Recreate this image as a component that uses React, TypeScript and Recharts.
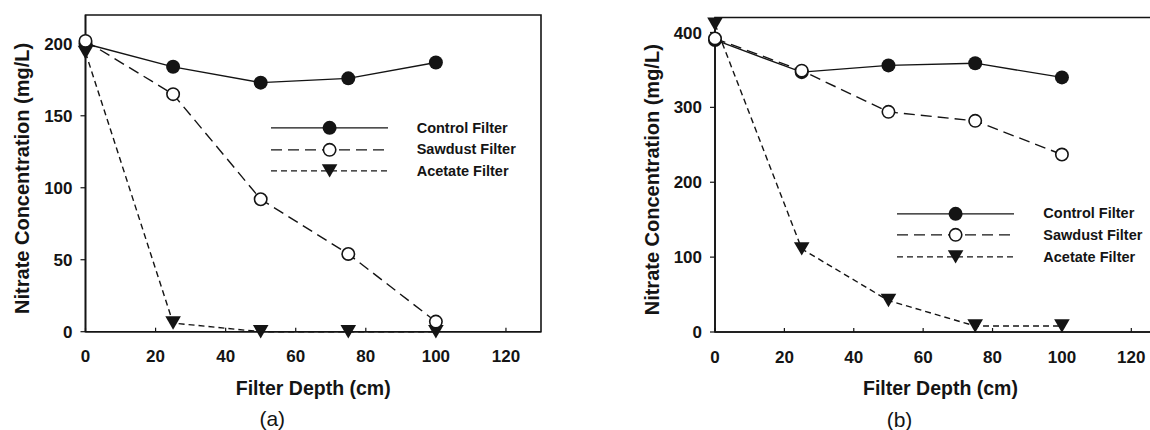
import { LineChart, Line, XAxis, YAxis, Legend, Label, ReferenceArea } from "recharts"

// filter depth (cm) at the sampling ports
const depths = [0, 25, 50, 75, 100]

// panel (a) – nitrate (mg/L)
const controlA = [200, 184, 173, 176, 187]
const sawdustA = [202, 165, 92, 54, 7]
const acetateA = [194, 6, 0, 0, 0]

// panel (b) – nitrate (mg/L)
const controlB = [390, 347, 356, 359, 340]
const sawdustB = [392, 349, 294, 282, 237]
const acetateB = [411, 111, 42, 8, 8]

const xTicks = [0, 20, 40, 60, 80, 100, 120]
const yTicksA = [0, 50, 100, 150, 200]
const yTicksB = [0, 100, 200, 300, 400]

const seriesKeys = ["control", "sawdust", "acetate"] as const
const seriesNames = ["Control Filter", "Sawdust Filter", "Acetate Filter"]
const panelLabels = ["(a)", "(b)"]
const xTitle = "Filter Depth (cm)"
const yTitle = "Nitrate Concentration (mg/L)"

const FONT = "'Liberation Sans', Arial, Helvetica, sans-serif"
const INK = "#141414"

type SeriesKey = (typeof seriesKeys)[number]

const seriesStyle: Record<SeriesKey, { dash?: string; marker: "filled" | "open" | "triangle" }> = {
  control: { marker: "filled" },
  sawdust: { dash: "11 6", marker: "open" },
  acetate: { dash: "6 4", marker: "triangle" },
}

function buildRows(control: number[], sawdust: number[], acetate: number[]) {
  return depths.map((depth, i) => ({ depth, control: control[i], sawdust: sawdust[i], acetate: acetate[i] }))
}

function Marker({ kind, cx, cy }: { kind: string; cx: number; cy: number }) {
  if (kind === "filled") return <circle cx={cx} cy={cy} r={7} fill={INK} />
  if (kind === "open") return <circle cx={cx} cy={cy} r={6.2} fill="#fff" stroke={INK} strokeWidth={1.6} />
  return (
    <polygon
      points={`${cx - 7.8},${cy - 6.7} ${cx + 7.8},${cy - 6.7} ${cx},${cy + 6.7}`}
      fill={INK}
    />
  )
}

function XTick(props: any) {
  const { x, y, payload } = props
  return (
    <g>
      <line x1={x} x2={x} y1={y} y2={y - 4} stroke={INK} strokeWidth={1.2} />
      <text
        x={x}
        y={y + 25}
        textAnchor="middle"
        dominantBaseline="central"
        fontSize={17}
        fontWeight={700}
        fill={INK}
        fontFamily={FONT}
      >
        {payload.value}
      </text>
    </g>
  )
}

function FilterLegend() {
  const rowH = 21.7
  return (
    <div style={{ fontFamily: FONT }}>
      {seriesKeys.map((key, i) => {
        const s = seriesStyle[key]
        return (
          <div key={key} style={{ display: "flex", alignItems: "center", height: rowH }}>
            <svg width={146} height={rowH} style={{ flexShrink: 0 }}>
              <line x1={0} x2={117} y1={rowH / 2} y2={rowH / 2} stroke={INK} strokeWidth={1.4} strokeDasharray={s.dash} />
              <Marker kind={s.marker} cx={58.6} cy={rowH / 2} />
            </svg>
            <span style={{ fontSize: 14.5, fontWeight: 700, color: INK, whiteSpace: "nowrap" }}>{seriesNames[i]}</span>
          </div>
        )
      })}
    </div>
  )
}

interface PanelProps {
  rows: ReturnType<typeof buildRows>
  yMax: number
  yTicks: number[]
  width: number
  margin: { top: number; right: number; bottom: number; left: number }
  yAxisWidth: number
  legendPos: { left: number; top: number }
  panelLabel: string
}

function Panel({ rows, yMax, yTicks, width, margin, yAxisWidth, legendPos, panelLabel }: PanelProps) {
  return (
    <LineChart width={width} height={430} data={rows} margin={margin}>
      <ReferenceArea x1={0} x2={130} y1={0} y2={yMax} fill="none" stroke={INK} strokeWidth={1.6} />
      <XAxis
        dataKey="depth"
        type="number"
        domain={[0, 130]}
        ticks={xTicks}
        height={40}
        tickSize={0}
        tickMargin={0}
        tickLine={false}
        axisLine={{ stroke: INK, strokeWidth: 1.6 }}
        tick={<XTick />}
      >
        <Label
          content={(p: any) => {
            const vb = p.viewBox
            const cx = vb.x + vb.width / 2
            return (
              <g fontFamily={FONT} fill={INK}>
                <text x={cx} y={vb.y + 56.3} textAnchor="middle" dominantBaseline="central" fontSize={19.5} fontWeight={700}>
                  {xTitle}
                </text>
                <text x={cx - 41} y={vb.y + 87} textAnchor="middle" dominantBaseline="central" fontSize={21}>
                  {panelLabel}
                </text>
              </g>
            )
          }}
        />
      </XAxis>
      <YAxis
        type="number"
        domain={[0, yMax]}
        ticks={yTicks}
        width={yAxisWidth}
        tickSize={5}
        tickMargin={8}
        axisLine={{ stroke: INK, strokeWidth: 1.6 }}
        tickLine={{ stroke: INK, strokeWidth: 1.2 }}
        tick={{ fontSize: 17, fontWeight: 700, fill: INK, fontFamily: FONT }}
      >
        <Label
          content={(p: any) => {
            const vb = p.viewBox
            const x = vb.x + vb.width - 63.5
            const y = vb.y + vb.height / 2 + 5
            return (
              <text
                x={x}
                y={y}
                transform={`rotate(-90, ${x}, ${y})`}
                textAnchor="middle"
                dominantBaseline="central"
                fontSize={20}
                fontWeight={700}
                fill={INK}
                fontFamily={FONT}
              >
                {yTitle}
              </text>
            )
          }}
        />
      </YAxis>
      <Legend
        layout="horizontal"
        verticalAlign="middle"
        align="center"
        content={<FilterLegend />}
        wrapperStyle={{ left: legendPos.left, top: legendPos.top, width: 240 }}
      />
      {(["control", "acetate", "sawdust"] as const).map((key) => {
        const s = seriesStyle[key]
        return (
          <Line
            key={key}
            type="linear"
            dataKey={key}
            name={seriesNames[seriesKeys.indexOf(key)]}
            stroke={INK}
            strokeWidth={1.4}
            strokeDasharray={s.dash}
            isAnimationActive={false}
            activeDot={false}
            dot={(p: any) => <Marker key={`${key}-${p.index}`} kind={s.marker} cx={p.cx} cy={p.cy} />}
          />
        )
      })}
    </LineChart>
  )
}

export default function App() {
  const rowsA = buildRows(controlA, sawdustA, acetateA)
  const rowsB = buildRows(controlB, sawdustB, acetateB)

  return (
    <div style={{ position: "fixed", left: 0, top: 0, width: 1150, height: 430, overflow: "hidden", background: "#fff" }}>
      <div style={{ position: "absolute", left: 0, top: 0 }}>
        <Panel
          rows={rowsA}
          yMax={220}
          yTicks={yTicksA}
          width={560}
          margin={{ top: 15, right: 19, bottom: 58.3, left: 0 }}
          yAxisWidth={85.5}
          legendPos={{ left: 270.7, top: 116.9 }}
          panelLabel={panelLabels[0]}
        />
      </div>
      <div style={{ position: "absolute", left: 580, top: 0 }}>
        <Panel
          rows={rowsB}
          yMax={420}
          yTicks={yTicksB}
          width={600}
          margin={{ top: 17.5, right: 14, bottom: 58, left: 0 }}
          yAxisWidth={135}
          legendPos={{ left: 317.3, top: 202.5 }}
          panelLabel={panelLabels[1]}
        />
      </div>
    </div>
  )
}
